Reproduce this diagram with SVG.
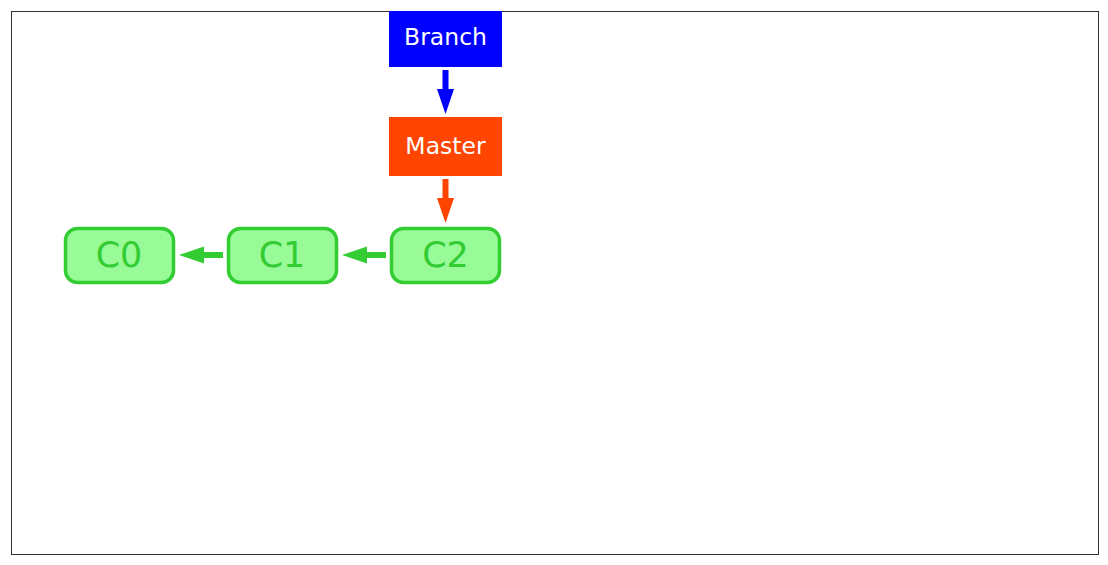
<svg xmlns="http://www.w3.org/2000/svg" width="1108" height="565" viewBox="0 0 1108 565">
<style>
.lbl{font-family:"DejaVu Sans",sans-serif;font-size:23.5px;fill:#ffffff;text-anchor:middle;dominant-baseline:central}
.commit rect{fill:#98fb98;stroke:#33cc33;stroke-width:3.5}
.commit text{font-family:"DejaVu Sans",sans-serif;font-size:35px;fill:#33cc33;text-anchor:middle;dominant-baseline:central}
</style>
<rect x="11.5" y="11.5" width="1087" height="543" fill="#ffffff" stroke="#333333" stroke-width="1"/>
<g id="connectors">
<g id="branch-master">
<rect x="442.5" y="70" width="6" height="20" fill="#0000ff"/>
<polygon points="437,89 454,89 445.5,114" fill="#0000ff"/>
</g>
<g id="master-c2">
<rect x="442.5" y="179" width="6" height="20" fill="#ff4500"/>
<polygon points="437,198 454,198 445.5,223" fill="#ff4500"/>
</g>
<g id="c1-c0">
<rect x="203" y="252" width="20" height="6" fill="#33cc33"/>
<polygon points="204,246.5 204,263.5 179,255" fill="#33cc33"/>
</g>
<g id="c2-c1">
<rect x="366" y="252" width="20" height="6" fill="#33cc33"/>
<polygon points="367,246.5 367,263.5 342,255" fill="#33cc33"/>
</g>
</g>
<g id="branch">
<rect x="389" y="11" width="113" height="56" fill="#0000ff"/>
<text class="lbl" x="445.5" y="37">Branch</text>
</g>
<g id="master">
<rect x="389" y="117" width="113" height="59" fill="#ff4500"/>
<text class="lbl" x="445.5" y="146">Master</text>
</g>
<g id="c0" class="commit">
<rect x="65.5" y="228.5" width="108" height="54" rx="12"/>
<text x="119" y="255">C0</text>
</g>
<g id="c1" class="commit">
<rect x="228.5" y="228.5" width="108" height="54" rx="12"/>
<text x="282" y="255">C1</text>
</g>
<g id="c2" class="commit">
<rect x="391.5" y="228.5" width="108" height="54" rx="12"/>
<text x="445.5" y="255">C2</text>
</g>
</svg>
